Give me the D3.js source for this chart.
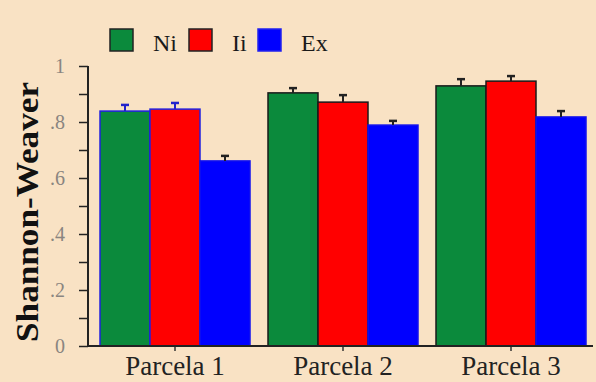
<!DOCTYPE html>
<html>
<head>
<meta charset="utf-8">
<script src="https://cdn.jsdelivr.net/npm/d3@7"></script>
<style>
  html, body { margin: 0; padding: 0; background: #f9e2c4; }
  svg { display: block; }
  text { font-family: "Liberation Serif", "Times New Roman", Times, serif; }
</style>
</head>
<body>
<svg id="chart" width="596" height="382"></svg>
<script>
// Shannon-Weaver diversity per plot (parcela) and group
const categories = ["Parcela 1", "Parcela 2", "Parcela 3"];
const seriesNames = ["Ni", "Ii", "Ex"];
const niValues = [0.839, 0.904, 0.929];
const iiValues = [0.846, 0.871, 0.946];
const exValues = [0.661, 0.789, 0.818];
const niErrors = [0.022, 0.017, 0.024];
const iiErrors = [0.022, 0.025, 0.018];
const exErrors = [0.018, 0.015, 0.021];
const yTickValues = [0, 0.2, 0.4, 0.6, 0.8, 1];
const yTickLabels = ["0", ".2", ".4", ".6", ".8", "1"];

const series = [
  { name: seriesNames[0], values: niValues, errors: niErrors },
  { name: seriesNames[1], values: iiValues, errors: iiErrors },
  { name: seriesNames[2], values: exValues, errors: exErrors }
];
const fills = { Ni: "#0b8a3c", Ii: "#ff0000", Ex: "#0000ff" };
const serif = "'Liberation Serif', 'Times New Roman', Times, serif";

const svg = d3.select("#chart");
svg.append("rect").attr("width", 596).attr("height", 382).attr("fill", "#f9e2c4");

const axisX = 88, axisBottom = 346, axisTop = 66;

const x0 = d3.scaleBand()
  .domain(categories)
  .range([91, 595])
  .paddingInner(18 / 168)
  .paddingOuter(9 / 168);
const x1 = d3.scaleBand()
  .domain(seriesNames)
  .range([0, x0.bandwidth()]);
const y = d3.scaleLinear().domain([0, 1]).range([axisBottom, axisTop]);

// bars
const rows = [];
categories.forEach((c, i) => {
  series.forEach(s => rows.push({ cat: c, ci: i, name: s.name, v: s.values[i], e: s.errors[i] }));
});

function strokeFor(d) {
  if (d.name === "Ex") return "#1010ee";
  return d.ci === 0 ? "#2020e0" : "#1a1a1a";
}
function errColor(d) {
  if (d.name === "Ex") return "#222";
  return d.ci === 0 ? "#2222cc" : "#222";
}

const bars = svg.append("g");
bars.selectAll("rect")
  .data(rows)
  .join("rect")
  .attr("x", d => x0(d.cat) + x1(d.name))
  .attr("y", d => y(d.v))
  .attr("width", x1.bandwidth())
  .attr("height", d => y(0) - y(d.v))
  .attr("fill", d => fills[d.name])
  .attr("stroke", strokeFor)
  .attr("stroke-width", 1.5);

// error bars (upper only, capped)
const err = svg.append("g").attr("stroke-width", 2);
rows.forEach(d => {
  const cx = x0(d.cat) + x1(d.name) + x1.bandwidth() / 2;
  err.append("line")
    .attr("x1", cx).attr("x2", cx)
    .attr("y1", y(d.v)).attr("y2", y(d.v + d.e))
    .attr("stroke", errColor(d));
  err.append("line")
    .attr("x1", cx - 4).attr("x2", cx + 4)
    .attr("y1", y(d.v + d.e)).attr("y2", y(d.v + d.e))
    .attr("stroke", errColor(d)).attr("stroke-width", 2.5);
});

// y axis
const yAxis = d3.axisLeft(y)
  .tickValues(d3.range(0, 1.0001, 0.1))
  .tickSize(9)
  .tickPadding(14)
  .tickFormat(v => {
    const k = yTickValues.findIndex(t => Math.abs(t - v) < 1e-6);
    return k >= 0 ? yTickLabels[k] : "";
  });
const ya = svg.append("g").attr("transform", `translate(${axisX},0)`).call(yAxis);
ya.select(".domain").remove();
ya.selectAll(".tick line").attr("stroke", "#222").attr("stroke-width", 1.5);
ya.selectAll(".tick text")
  .attr("fill", "#8a8580")
  .attr("font-family", serif)
  .attr("font-size", 20);
svg.append("line")
  .attr("x1", axisX).attr("x2", axisX)
  .attr("y1", axisTop).attr("y2", axisBottom + 1)
  .attr("stroke", "#222").attr("stroke-width", 2);

// x axis
const xAxis = d3.axisBottom(x0).tickSize(5).tickPadding(10);
const xa = svg.append("g").attr("transform", `translate(0,${axisBottom})`).call(xAxis);
xa.select(".domain").remove();
xa.selectAll(".tick line").attr("stroke", "#333").attr("stroke-width", 1.5);
xa.selectAll(".tick text")
  .attr("fill", "#222")
  .attr("font-family", serif)
  .attr("font-size", 27)
  .attr("y", 29)
  .attr("dy", 0);
svg.append("line")
  .attr("x1", axisX - 1).attr("x2", 593)
  .attr("y1", axisBottom).attr("y2", axisBottom)
  .attr("stroke", "#222").attr("stroke-width", 2);

// y axis title
svg.append("text")
  .attr("transform", `translate(38,212) rotate(-90)`)
  .attr("text-anchor", "middle")
  .attr("font-family", serif)
  .attr("font-weight", "bold")
  .attr("font-size", 32)
  .attr("textLength", 260)
  .attr("lengthAdjust", "spacingAndGlyphs")
  .attr("fill", "#111")
  .text("Shannon-Weaver");

// legend
const legendX = [110, 189, 258];
const leg = svg.append("g");
series.forEach((s, i) => {
  leg.append("rect")
    .attr("x", legendX[i]).attr("y", 29)
    .attr("width", 23).attr("height", 22)
    .attr("fill", fills[s.name])
    .attr("stroke", s.name === "Ex" ? "#2020ee" : "#222")
    .attr("stroke-width", 1.5);
  leg.append("text")
    .attr("x", legendX[i] + 43).attr("y", 51)
    .attr("font-family", serif)
    .attr("font-size", 24)
    .attr("fill", "#1a1a1a")
    .text(s.name);
});
</script>
</body>
</html>
